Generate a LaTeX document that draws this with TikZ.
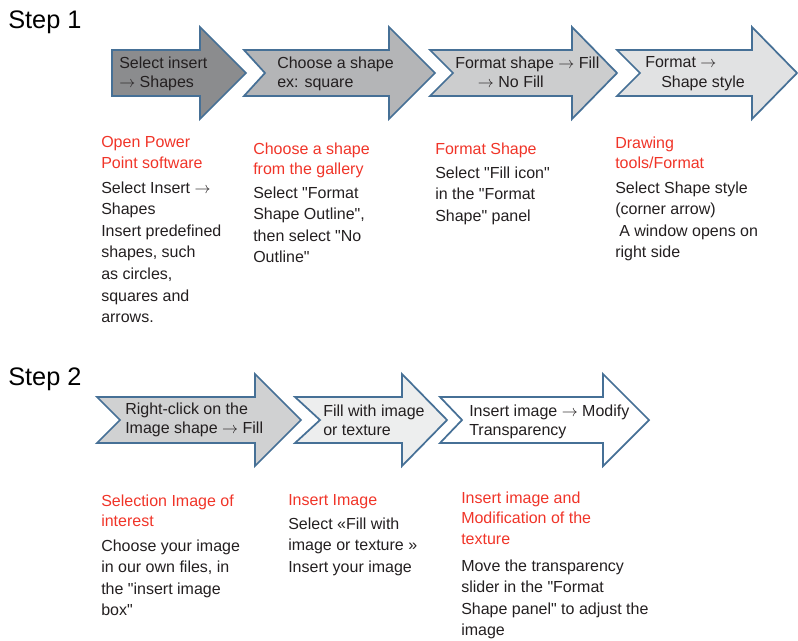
\documentclass[tikz,border=0pt]{standalone}
\usepackage{fontspec}
\setmainfont{Liberation Sans}
\usepackage{tikz}
\usetikzlibrary{positioning}
\definecolor{arrowblue}{RGB}{70,112,150}
\definecolor{titlered}{RGB}{240,52,40}
\definecolor{textgray}{RGB}{35,31,32}
\definecolor{fillA}{RGB}{139,140,142}
\definecolor{fillB}{RGB}{180,181,183}
\definecolor{fillC}{RGB}{204,205,206}
\definecolor{fillD}{RGB}{225,226,227}
\definecolor{fillE}{RGB}{208,209,210}
\definecolor{fillF}{RGB}{237,238,238}

\newcommand{\ra}{$\rightarrow$}
\newcommand{\dq}{\textquotedbl}

% fill, left x, notch depth, head x, tip x, middle y
\newcommand{\stepArrow}[6]{%
  \draw[arrowline, fill=#1] ({#2},{#6-23}) -- ({#4},{#6-23}) -- ({#4},{#6-46}) -- ({#5},{#6})
    -- ({#4},{#6+46}) -- ({#4},{#6+23}) -- ({#2},{#6+23}) -- ({#2+#3},{#6}) -- cycle;}

\begin{document}
\begin{tikzpicture}[
        x=0.75pt, y=-0.75pt,
        arrowline/.style={draw=arrowblue, line width=1.3pt},
        steplabel/.style={anchor=north west, inner sep=0pt, font=\fontsize{19}{22}\selectfont, text=black},
        arrowtext/.style={anchor=north west, inner sep=0pt, align=left, font=\fontsize{12}{14.6}\selectfont, text=textgray},
        title/.style={anchor=north west, inner sep=0pt, align=left, font=\fontsize{12}{15.5}\selectfont, text=titlered},
        desc/.style={anchor=north west, inner sep=0pt, align=left, font=\fontsize{12}{16.2}\selectfont, text=textgray}
        ]
        \useasboundingbox (0,0) rectangle (798,640);

        % Step 1
        \node (step1) [steplabel] at (8,11) {Step 1};
        \stepArrow{fillA}{112}{0}{200}{246}{73}
        \stepArrow{fillB}{244}{21}{389}{435}{73}
        \stepArrow{fillC}{430}{23}{572}{617}{73}
        \stepArrow{fillD}{617}{23}{752}{797}{73}

        \node (a1) [arrowtext] at (119,56.3) {Select insert\\\ra{} Shapes};
        \node (a2) [arrowtext] at (277,56.3) {Choose a shape\\ex: square};
        \node (a3) [arrowtext] at (455,56.3) {Format shape \ra{} Fill\\\hspace*{17pt}\ra{} No Fill};
        \node (a4) [arrowtext] at (645,56.3) {Format \ra\\\hspace*{12pt}Shape style};

        \node (t1) [title] at (101,136.3) {Open Power\\Point software};
        \node (t2) [title] at (253,142.3) {Choose a shape\\from the gallery};
        \node (t3) [title] at (435,142.3) {Format Shape};
        \node (t4) [title] at (615,136.3) {Drawing\\tools/Format};

        \node (d1) [desc] at (101,181.3) {Select Insert \ra\\Shapes\\Insert predefined\\shapes, such\\as circles,\\squares and\\arrows.};
        \node (d2) [desc] at (253,186.3) {Select \dq{}Format\\Shape Outline\dq{},\\then select \dq{}No\\Outline\dq};
        \node (d3) [desc] at (435,166.3) {Select \dq{}Fill icon\dq\\in the \dq{}Format\\Shape\dq{} panel};
        \node (d4) [desc] at (615,181.3) {Select Shape style\\(corner arrow)\\\hspace*{3pt}A window opens on\\right side};

        % Step 2
        \node (step2) [steplabel] at (8,368) {Step 2};
        \stepArrow{fillE}{97}{23}{255}{301}{420}
        \stepArrow{fillF}{295}{25}{402}{447}{420}
        \stepArrow{white}{440}{22}{603}{649}{420}

        \node (b1) [arrowtext] at (125,402.3) {Right-click on the\\Image shape \ra{} Fill};
        \node (b2) [arrowtext] at (323,404.3) {Fill with image\\or texture};
        \node (b3) [arrowtext] at (469,404.3) {Insert image \ra{} Modify\\Transparency};

        \node (u1) [title] at (101,494.3) {Selection Image of\\interest};
        \node (u2) [title] at (288,494.3) {Insert Image};
        \node (u3) [title] at (461,491.3) {Insert image and\\Modification of the\\texture};

        \node (e1) [desc] at (101,539.3) {Choose your image\\in our own files, in\\the \dq{}insert image\\box\dq};
        \node (e2) [desc] at (288,517.3) {Select «Fill with\\image or texture »\\Insert your image};
        \node (e3) [desc] at (461,559.3) {Move the transparency\\slider in the \dq{}Format\\Shape panel\dq{} to adjust the\\image};

    \end{tikzpicture}
\end{document}
